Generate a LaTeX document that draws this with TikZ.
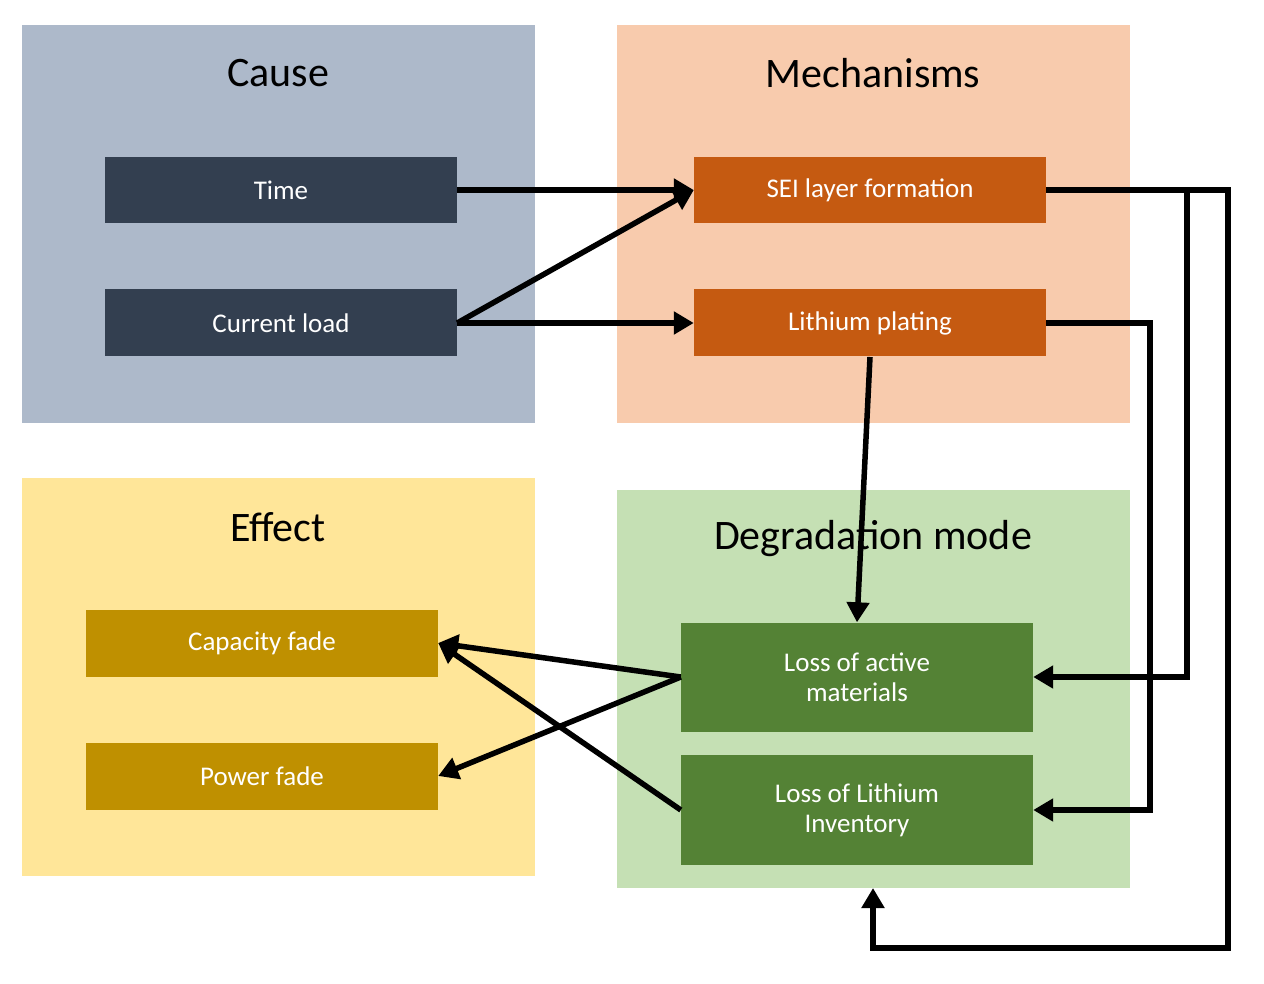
\documentclass[tikz,border=0pt]{standalone}
\usepackage{fontspec}
\setmainfont{Carlito}
\usetikzlibrary{arrows.meta}
\definecolor{causeC}{HTML}{ADB9CA}
\definecolor{mechC}{HTML}{F8CBAD}
\definecolor{effC}{HTML}{FFE699}
\definecolor{degC}{HTML}{C5E0B4}
\definecolor{navy}{HTML}{333F50}
\definecolor{rust}{HTML}{C55A11}
\definecolor{gold}{HTML}{BF9000}
\definecolor{leaf}{HTML}{548235}
\begin{document}
\begin{tikzpicture}[x=1pt,y=-1pt,
  panel/.style={draw=none,inner sep=0},
  box/.style={text=white,font=\fontsize{27}{30}\selectfont,align=center,inner sep=0},
  title/.style={font=\fontsize{42}{46}\selectfont},
  arr/.style={line width=5.5pt,-{Triangle[length=20pt,width=22pt]}},
  ln/.style={line width=5.5pt}]
\useasboundingbox[fill=white] (0,0) rectangle (1264,984);
\fill[causeC] (22,25) rectangle (535,423);
\fill[mechC] (617,25) rectangle (1130,423);
\fill[effC] (22,478) rectangle (535,876);
\fill[degC] (617,490) rectangle (1130,888);
\node[title] (tc) at (278,73) {Cause};
\node[title] (tm) at (873,73) {Mechanisms};
\node[title] (te) at (278,527) {Effect};
\node[title] (td) at (873,539) {Degradation mode};
\node[box,fill=navy,minimum width=352pt,minimum height=66pt] (time) at (281,190) {Time};
\node[box,fill=navy,minimum width=352pt,minimum height=67pt] (cl) at (281,323) {Current load};
\node[box,fill=rust,minimum width=352pt,minimum height=66pt] (sei) at (870,190) {SEI layer formation};
\node[box,fill=rust,minimum width=352pt,minimum height=67pt] (lp) at (870,323) {Lithium plating};
\node[box,fill=gold,minimum width=352pt,minimum height=67pt] (cf) at (262,643) {Capacity fade};
\node[box,fill=gold,minimum width=352pt,minimum height=67pt] (pf) at (262,776) {Power fade};
\node[box,fill=leaf,minimum width=352pt,minimum height=109pt] (lam) at (857,677) {Loss of active\\materials};
\node[box,fill=leaf,minimum width=352pt,minimum height=110pt] (lli) at (857,810) {Loss of Lithium\\Inventory};
\coordinate (degb) at (873,888);
\draw[arr] (time.east) -- (sei.west);
\draw[arr] (cl.east) -- (sei.west);
\draw[arr] (cl.east) -- (lp.west);
\draw[arr] (sei.east) -- (1187,190) -- (1187,677) -- (lam.east);
\draw[arr] (sei.east) -- (1228,190) -- (1228,948) -- (873,948) -- (degb);
\draw[arr] (lp.east) -- (1150,323) -- (1150,810) -- (lli.east);
\draw[arr] (870,357) -- (lam.north);
\draw[arr] (lam.west) -- (cf.east);
\draw[arr] (lam.west) -- (pf.east);
\draw[arr] (lli.west) -- (cf.east);
\end{tikzpicture}
\end{document}
